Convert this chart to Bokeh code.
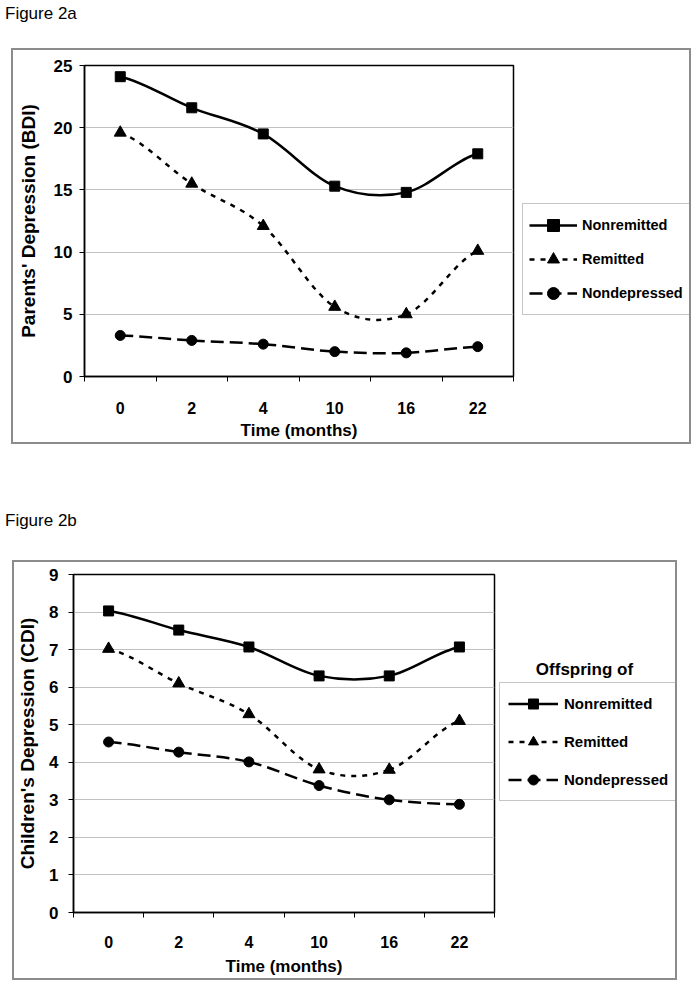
from bokeh.plotting import figure
from bokeh.models import Range1d, FixedTicker, Legend, LegendItem, Label, Div, Spacer
from bokeh.layouts import column, row
from bokeh.embed import file_html
from bokeh.resources import INLINE

# ---------------- data ----------------
months = ["0", "2", "4", "10", "16", "22"]

series_names = ["Nonremitted", "Remitted", "Nondepressed"]

a_nonremitted = [24.1, 21.6, 19.5, 15.3, 14.8, 17.9]
a_remitted = [19.6, 15.5, 12.1, 5.6, 5.0, 10.1]
a_nondepressed = [3.3, 2.9, 2.6, 2.0, 1.9, 2.4]
a_yticks = [0, 5, 10, 15, 20, 25]

b_nonremitted = [8.03, 7.52, 7.07, 6.3, 6.3, 7.07]
b_remitted = [7.02, 6.1, 5.28, 3.81, 3.8, 5.1]
b_nondepressed = [4.54, 4.27, 4.01, 3.38, 3.0, 2.88]
b_yticks = [0, 1, 2, 3, 4, 5, 6, 7, 8, 9]

FONT = "Liberation Sans"
GRAY = "#8c8c8c"
STYLES = [
    dict(marker="square", size=10, dash="solid"),
    dict(marker="triangle", size=12, dash="5 6"),
    dict(marker="circle", size=10, dash="13 6"),
]


def smooth(ys):
    """Bezier control points of a smoothed line through the given values."""
    ext = [ys[0]] + list(ys) + [ys[-1]]
    d = dict(x0=[], y0=[], x1=[], y1=[], cx0=[], cy0=[], cx1=[], cy1=[])
    for i in range(len(ys) - 1):
        pm, p0, p1, pn = ext[i], ext[i + 1], ext[i + 2], ext[i + 3]
        d["x0"].append(i)
        d["x1"].append(i + 1)
        d["cx0"].append(i + 1 / 3)
        d["cx1"].append(i + 2 / 3)
        d["y0"].append(p0)
        d["y1"].append(p1)
        d["cy0"].append(p0 + (p1 - pm) / 6)
        d["cy1"].append(p1 - (pn - p0) / 6)
    return d


def panel(series, yticks, ylabel, W, H, mb, tick_std, label_std, xl_std, xt_std,
          LW, leg, title=None):
    # main chart (plot area + axes)
    p = figure(width=W, height=H, x_range=Range1d(-0.5, 5.5),
               y_range=Range1d(yticks[0], yticks[-1]),
               output_backend="svg", toolbar_location=None, tools="",
               min_border_left=mb[0], min_border_right=mb[1],
               min_border_top=mb[2], min_border_bottom=mb[3])
    p.outline_line_color = "black"
    p.outline_line_width = 1.5
    p.xgrid.visible = False
    p.ygrid.grid_line_color = "#c0c0c0"
    p.ygrid.grid_line_width = 1

    xa = p.xaxis[0]
    xa.ticker = FixedTicker(ticks=list(range(len(months))),
                            minor_ticks=[i - 0.5 for i in range(len(months) + 1)])
    xa.major_label_overrides = {i: m for i, m in enumerate(months)}
    xa.major_tick_line_color = None
    xa.major_tick_out = 0
    xa.major_tick_in = 0
    xa.minor_tick_line_color = "black"
    xa.minor_tick_out = 5
    xa.minor_tick_in = 0
    xa.axis_line_color = "black"
    xa.axis_line_width = 1.5
    xa.major_label_text_font = FONT
    xa.major_label_text_font_size = "16px"
    xa.major_label_text_font_style = "bold"
    xa.major_label_text_color = "black"
    xa.major_label_standoff = xt_std
    xa.axis_label = "Time (months)"
    xa.axis_label_text_font = FONT
    xa.axis_label_text_font_size = "17px"
    xa.axis_label_text_font_style = "bold"
    xa.axis_label_text_color = "black"
    xa.axis_label_standoff = xl_std

    ya = p.yaxis[0]
    ya.ticker = FixedTicker(ticks=yticks, minor_ticks=[])
    ya.major_tick_line_color = "black"
    ya.major_tick_out = 5
    ya.major_tick_in = 0
    ya.minor_tick_line_color = None
    ya.axis_line_color = "black"
    ya.axis_line_width = 1.5
    ya.major_label_text_font = FONT
    ya.major_label_text_font_size = "17px"
    ya.major_label_text_font_style = "bold"
    ya.major_label_text_color = "black"
    ya.major_label_standoff = tick_std
    ya.axis_label = ylabel
    ya.axis_label_text_font = FONT
    ya.axis_label_text_font_size = "19px"
    ya.axis_label_text_font_style = "bold"
    ya.axis_label_text_color = "black"
    ya.axis_label_standoff = label_std

    # legend panel (its own small figure, right of the plot; its frame is
    # aligned with the plot area of the main chart)
    q = figure(width=LW, height=H, x_range=Range1d(0, 1), y_range=Range1d(0, 1),
               output_backend="svg", toolbar_location=None, tools="",
               x_axis_location=None, y_axis_location=None,
               min_border_left=0, min_border_right=0,
               min_border_top=0, min_border_bottom=0)
    q.outline_line_color = None
    q.xgrid.visible = False
    q.ygrid.visible = False

    items = []
    for name, ys, st in zip(series_names, series, STYLES):
        seg = smooth(ys)
        kw_line = dict(line_color="black", line_width=2.5, line_dash=st["dash"])
        kw_mark = dict(marker=st["marker"], size=st["size"],
                       fill_color="black", line_color="black")
        p.bezier(x0=seg["x0"], y0=seg["y0"], x1=seg["x1"], y1=seg["y1"],
                 cx0=seg["cx0"], cy0=seg["cy0"], cx1=seg["cx1"], cy1=seg["cy1"],
                 **kw_line)
        p.scatter(x=list(range(len(ys))), y=ys, **kw_mark)
        # legend keys: same styles, placed outside the legend panel's range
        lr = q.line(x=[-5, -4], y=[-5, -5], **kw_line)
        sr = q.scatter(x=[-5], y=[-5], **kw_mark)
        items.append(LegendItem(label=name, renderers=[lr, sr]))

    legend = Legend(items=items, location=leg["loc"], margin=0,
                    padding=leg["padding"], spacing=leg["spacing"],
                    glyph_width=leg["gw"], glyph_height=leg["gh"],
                    label_height=leg["gh"], label_standoff=leg["std"],
                    label_text_font=FONT, label_text_font_size=leg["fs"],
                    label_text_font_style="bold", label_text_color="black",
                    border_line_color=GRAY, border_line_width=1.5,
                    background_fill_color="white", background_fill_alpha=1)
    q.add_layout(legend)
    if title is not None:
        q.add_layout(Label(x=title[1], y=title[2], x_units="screen",
                           y_units="screen", text=title[0], text_align="center",
                           text_baseline="alphabetic", text_font=FONT,
                           text_font_size="17px", text_font_style="bold",
                           text_color="black"))

    # grey outer box made of thin spacers
    tw = W + LW
    def bar(w, h):
        return Spacer(width=w, height=h, margin=0,
                      styles={"background-color": GRAY})
    box = row(bar(2, H + 4),
              column(bar(tw, 2), row(p, q), bar(tw, 2)),
              bar(2, H + 4))
    return box


box_a = panel([a_nonremitted, a_remitted, a_nondepressed], a_yticks,
              "Parents' Depression (BDI)", 504, 392, (71, 4, 15, 65),
              7, 12, 4, 20, 172,
              dict(loc=(5, 61), padding=6, spacing=4, gw=48, gh=30,
                   std=5, fs="14.5px"))

box_b = panel([b_nonremitted, b_remitted, b_nondepressed], b_yticks,
              "Children's Depression (CDI)", 484, 416, (56, 4, 12, 63),
              10, 8, 6, 18, 177,
              dict(loc=(1, 111), padding=8, spacing=13, gw=50, gh=25,
                   std=6, fs="15px"),
              title=("Offspring of", 86, 243))

TXT = ("<div style=\"position:relative;top:{top}px;left:5px;"
       "font-family:'Liberation Sans';font-size:17px;line-height:20px;"
       "white-space:nowrap;\">{t}</div>")
div_a = Div(text=TXT.format(top=-4, t="Figure 2a"), width=200, height=40,
            margin=(0, 0, 0, 0))
div_b = Div(text=TXT.format(top=67, t="Figure 2b"), width=200, height=116,
            margin=(0, 0, 0, 0))

page = column(Spacer(width=10, height=8, margin=0),
              div_a,
              row(Spacer(width=11, height=10, margin=0), box_a),
              div_b,
              row(Spacer(width=12, height=10, margin=0), box_b))

open("out.html", "w").write(file_html(page, INLINE))
